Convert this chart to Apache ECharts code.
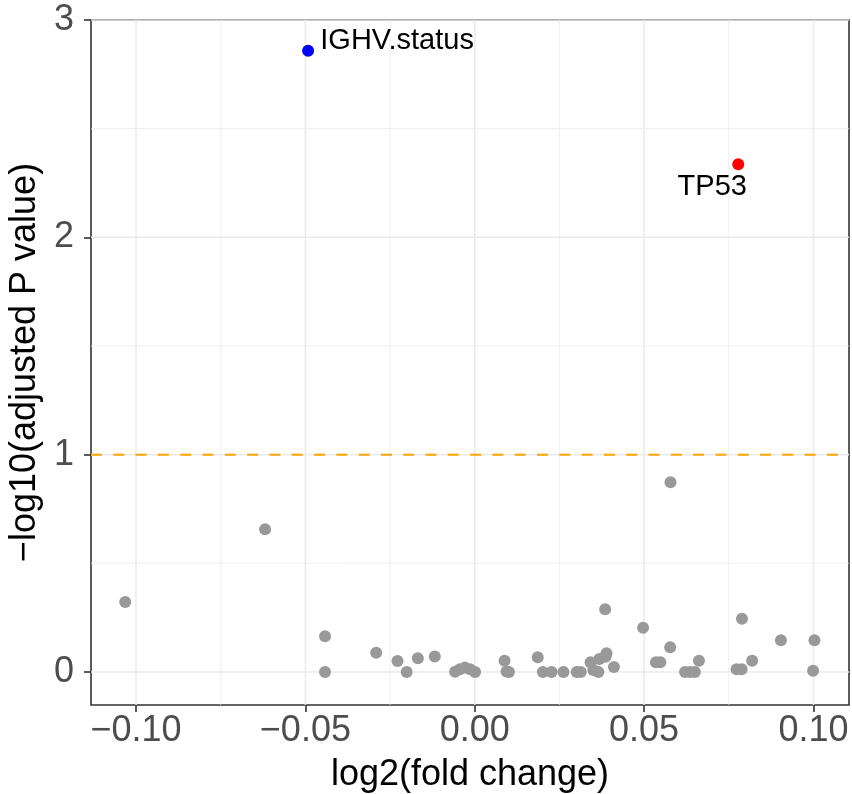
<!DOCTYPE html>
<html>
<head>
<meta charset="utf-8">
<script src="https://cdn.jsdelivr.net/npm/echarts@6/dist/echarts.min.js"></script>
<style>
  html, body { margin: 0; padding: 0; background: #ffffff; }
  #chart { width: 852px; height: 794px; }
</style>
</head>
<body>
<div id="chart"></div>
<script>
// Non-significant features: log2 fold change and -log10 adjusted p value
const nsFoldChange = [
  -0.1032, -0.0619, -0.0442, -0.0442, -0.0291, -0.0228, -0.0201, -0.0168, -0.0118,
  -0.0058, -0.0044, -0.0029, -0.0014, 0.0001, 0.0088, 0.0094, 0.0101, 0.0186,
  0.0201, 0.0227, 0.0262, 0.0301, 0.0313, 0.0342, 0.0368, 0.0389, 0.0386, 0.0350,
  0.0365, 0.0411, 0.0385, 0.0497, 0.0535, 0.0548, 0.0577, 0.0578, 0.0621, 0.0636,
  0.0650, 0.0662, 0.0773, 0.0788, 0.0789, 0.0819, 0.0904, 0.1003, 0.0999
];
const nsLogP = [
  0.322, 0.657, 0.164, 0.000, 0.088, 0.051, 0.000, 0.063, 0.071,
  0.001, 0.012, 0.020, 0.012, 0.000, 0.052, 0.002, 0.000, 0.068,
  0.000, 0.000, 0.000, 0.000, 0.000, 0.045, 0.060, 0.086, 0.070, 0.009,
  0.000, 0.023, 0.289, 0.204, 0.045, 0.045, 0.114, 0.873, 0.000, 0.000,
  0.000, 0.052, 0.012, 0.012, 0.245, 0.052, 0.146, 0.146, 0.006
];

// Significant features
const sigNames = ['IGHV.status', 'TP53'];
const sigFoldChange = [-0.0492, 0.0778];
const sigLogP = [2.859, 2.336];

// Significance cut-off on the -log10 scale
const pThreshold = 1;

// Axis ticks and grid
const xTicks = [-0.1, -0.05, 0, 0.05, 0.1];
const xMinorGrid = [-0.075, -0.025, 0.025, 0.075];
const yTicks = [0, 1, 2, 3];
const yMinorGrid = [0.5, 1.5, 2.5];

const X_MIN = -0.1133, X_MAX = 0.1105;
const Y_MIN = -0.152, Y_MAX = 3;

const FONT = '"Liberation Sans", Arial, Helvetica, sans-serif';
const gridGrey = '#EBEBEB';

const chart = echarts.init(document.getElementById('chart'), null, { renderer: 'canvas' });

const nsPoints = nsFoldChange.map((x, i) => [x, nsLogP[i]]);

function fmtX(v) {
  return (v < 0 ? '\u2212' : '') + Math.abs(v).toFixed(2);
}

// Build a broken polyline: one segment per grid value, separated by gaps
function gridSegments(xs, ys) {
  const out = [];
  xs.forEach(v => { out.push([v, Y_MIN], [v, Y_MAX], [null, null]); });
  ys.forEach(v => { out.push([X_MIN, v], [X_MAX, v], [null, null]); });
  return out;
}

function gridSeries(data, width, z) {
  return {
    type: 'line',
    data: data,
    z: z,
    silent: true,
    symbol: 'none',
    showSymbol: false,
    connectNulls: false,
    lineStyle: { color: gridGrey, width: width, opacity: 1 },
    emphasis: { disabled: true },
    animation: false
  };
}

const option = {
  animation: false,
  backgroundColor: '#ffffff',
  textStyle: { fontFamily: FONT },
  grid: {
    left: 91, right: 3, top: 20, bottom: 89,
    containLabel: false,
    outerBoundsMode: 'none',
    show: true,
    backgroundColor: '#ffffff',
    borderColor: '#333333',
    borderWidth: 1.6
  },
  xAxis: {
    type: 'value',
    position: 'bottom',
    min: X_MIN,
    max: X_MAX,
    name: 'log2(fold change)',
    nameLocation: 'middle',
    nameGap: 52,
    nameTextStyle: { fontSize: 36, color: '#000000', fontFamily: FONT },
    axisLine: { show: false, onZero: false },
    axisTick: {
      show: true, length: 7, customValues: xTicks,
      lineStyle: { color: '#333333', width: 1.6 }
    },
    axisLabel: {
      show: true, customValues: xTicks, formatter: fmtX,
      fontSize: 36, color: '#4D4D4D', margin: 8, fontFamily: FONT
    },
    splitLine: { show: false }
  },
  yAxis: {
    type: 'value',
    position: 'left',
    min: Y_MIN,
    max: Y_MAX,
    name: '\u2212log10(adjusted P value)',
    nameLocation: 'middle',
    nameGap: 41,
    nameRotate: 90,
    nameTextStyle: { fontSize: 36, color: '#000000', fontFamily: FONT },
    axisLine: { show: false, onZero: false },
    axisTick: {
      show: true, length: 7, customValues: yTicks,
      lineStyle: { color: '#333333', width: 1.6 }
    },
    axisLabel: {
      show: true, customValues: yTicks, formatter: v => String(Math.round(v)),
      fontSize: 36, color: '#4D4D4D', margin: 17, fontFamily: FONT
    },
    splitLine: { show: false }
  },
  series: [
    gridSeries(gridSegments(xMinorGrid, yMinorGrid), 0.8, 1),
    gridSeries(gridSegments(xTicks, yTicks), 1.6, 1),
    {
      // significance threshold
      type: 'line',
      z: 2,
      silent: true,
      symbol: 'none',
      showSymbol: false,
      emphasis: { disabled: true },
      lineStyle: { color: '#FFA500', width: 2, type: [11, 11.3], opacity: 1 },
      data: [[X_MIN, pThreshold], [X_MAX, pThreshold]]
    },
    {
      name: 'not significant',
      type: 'scatter',
      z: 3,
      symbolSize: 12,
      itemStyle: { color: '#999999', opacity: 1 },
      emphasis: { disabled: true },
      data: nsPoints
    },
    {
      name: 'down',
      type: 'scatter',
      z: 4,
      symbolSize: 12,
      itemStyle: { color: '#0000FF', opacity: 1 },
      emphasis: { disabled: true },
      label: {
        show: true, position: 'inside', offset: [89, -10],
        formatter: sigNames[0], fontSize: 29, color: '#000000',
        textBorderWidth: 0, fontFamily: FONT
      },
      data: [[sigFoldChange[0], sigLogP[0]]]
    },
    {
      name: 'up',
      type: 'scatter',
      z: 4,
      symbolSize: 12,
      itemStyle: { color: '#FF0000', opacity: 1 },
      emphasis: { disabled: true },
      label: {
        show: true, position: 'inside', offset: [-26, 23],
        formatter: sigNames[1], fontSize: 29, color: '#000000',
        textBorderWidth: 0, fontFamily: FONT
      },
      data: [[sigFoldChange[1], sigLogP[1]]]
    }
  ]
};

chart.setOption(option);
</script>
</body>
</html>
